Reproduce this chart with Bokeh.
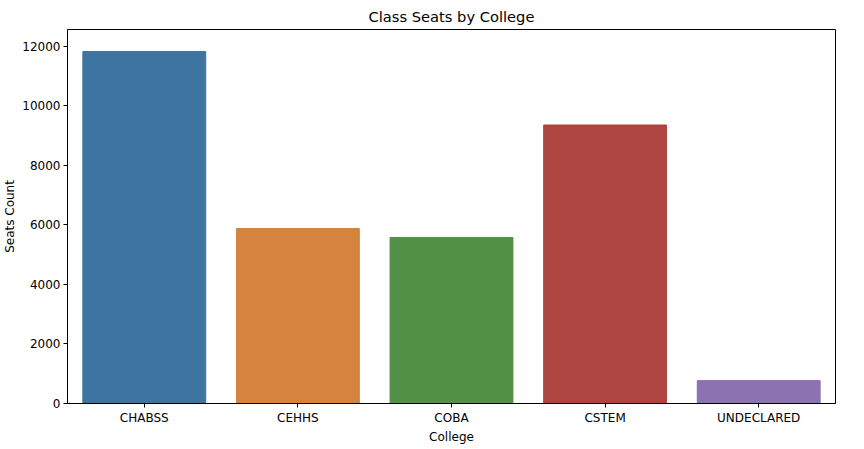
from bokeh.plotting import figure
from bokeh.models import ColumnDataSource, Range1d
from bokeh.embed import file_html
from bokeh.resources import INLINE

colleges = ["CHABSS", "CEHHS", "COBA", "CSTEM", "UNDECLARED"]
seats = [11830, 5880, 5580, 9360, 770]
colors = ["#3e75a0", "#d4843e", "#529145", "#ad4541", "#8c72b0"]

src = ColumnDataSource(dict(x=colleges, top=seats, color=colors))

p = figure(x_range=colleges, y_range=Range1d(0, 12570),
           frame_width=768, frame_height=374,
           title="Class Seats by College", output_backend="svg",
           toolbar_location=None, min_border_left=60, min_border_right=10,
           min_border_top=4, min_border_bottom=30)
p.vbar(x="x", top="top", width=0.8, color="color", source=src)

p.title.align = "center"
p.title.text_font = "DejaVu Sans"
p.title.text_font_size = "11pt"
p.title.text_font_style = "normal"
p.title.text_color = "black"
p.xgrid.visible = False
p.ygrid.visible = False
p.outline_line_color = "black"
p.outline_line_width = 1
p.x_range.range_padding = 0
p.xaxis.axis_label = "College"
p.yaxis.axis_label = "Seats Count"
for ax in (p.xaxis, p.yaxis):
    ax.axis_label_text_font = "DejaVu Sans"
    ax.axis_label_text_font_size = "9pt"
    ax.axis_label_text_font_style = "normal"
    ax.axis_label_text_color = "black"
    ax.major_label_text_font = "DejaVu Sans"
    ax.major_label_text_font_size = "9pt"
    ax.major_label_text_color = "black"
    ax.minor_tick_line_color = None
    ax.major_tick_out = 4
    ax.major_tick_in = 0
    ax.axis_label_standoff = 2
    ax.major_label_standoff = 3
p.yaxis.ticker = [0, 2000, 4000, 6000, 8000, 10000, 12000]

open("out.html", "w").write(file_html(p, INLINE))
